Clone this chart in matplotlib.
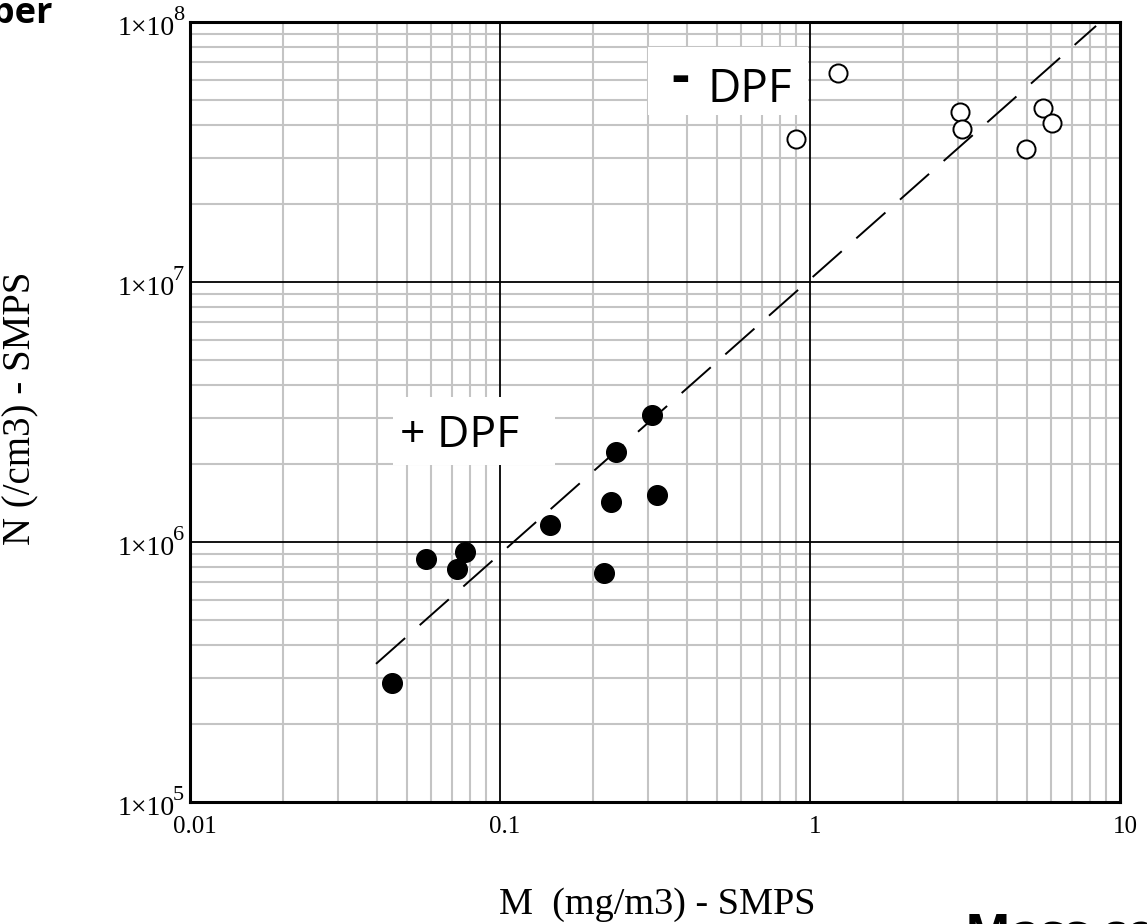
import matplotlib
matplotlib.use("Agg")
import matplotlib.pyplot as plt
from matplotlib.ticker import LogLocator, NullFormatter
from matplotlib.transforms import ScaledTranslation
from matplotlib.patches import Rectangle

plt.rcParams['font.family'] = ['Liberation Serif', 'DejaVu Serif']

# values (mass in mg/m3, number in /cm3)
plus_dpf_m = [0.0447, 0.0577, 0.0771, 0.0728, 0.145, 0.216, 0.228, 0.237, 0.310, 0.321]
plus_dpf_n = [2.86e5, 8.6e5, 9.18e5, 7.87e5, 1.16e6, 7.58e5, 1.42e6, 2.22e6, 3.08e6, 1.51e6]
minus_dpf_m = [0.902, 1.228, 3.05, 3.09, 4.96, 5.63, 6.05]
minus_dpf_n = [3.54e7, 6.35e7, 4.5e7, 3.87e7, 3.25e7, 4.68e7, 4.1e7]

# dashed trend line end points
fit_m = [0.0398, 8.37]
fit_n = [3.4e5, 9.66e7]

x_ticks = [0.01, 0.1, 1, 10]
x_labels = ["0.01", "0.1", "1", "10"]
y_ticks = [1e5, 1e6, 1e7, 1e8]
y_exps = [5, 6, 7, 8]

fig = plt.figure(figsize=(11.47, 9.24), dpi=100)
ax = fig.add_axes([0.1657, 0.1320, 0.8108, 0.8442])
ax.set_xscale('log')
ax.set_yscale('log')
ax.set_xlim(x_ticks[0], x_ticks[-1])
ax.set_ylim(y_ticks[0], y_ticks[-1])

# grid: grey minor lines, black decade lines
ax.xaxis.set_minor_locator(LogLocator(base=10, subs=range(2, 10), numticks=20))
ax.yaxis.set_minor_locator(LogLocator(base=10, subs=range(2, 10), numticks=20))
ax.xaxis.set_minor_formatter(NullFormatter())
ax.yaxis.set_minor_formatter(NullFormatter())
ax.set_axisbelow(True)
ax.grid(which='minor', color='#c4c4c4', lw=1.5)
for v in x_ticks[1:-1]:
    ax.axvline(v, color='black', lw=1.3, zorder=0.8)
for v in y_ticks[1:-1]:
    ax.axhline(v, color='black', lw=1.3, zorder=0.8)

for s in ax.spines.values():
    s.set_linewidth(2.2)

ax.plot(fit_m, fit_n, color='black', lw=1.4, ls=(0, (20, 10)), zorder=2)
ax.scatter(plus_dpf_m, plus_dpf_n, s=200, c='black', zorder=3)
ax.scatter(minus_dpf_m, minus_dpf_n, s=170, facecolors='white', edgecolors='black',
           linewidths=1.4, zorder=3)

ax.set_xticks(x_ticks, labels=x_labels)
ax.set_yticks(y_ticks)
ax.tick_params(which='both', length=0)
ax.tick_params(axis='x', labelsize=18, pad=10)
ax.tick_params(axis='y', labelleft=False)
for lab in ax.get_xticklabels():
    lab.set_transform(lab.get_transform() + ScaledTranslation(5 / 100, 0, fig.dpi_scale_trans))

# y tick labels written as 1x10 with a large exponent
for v, e in zip(y_ticks, y_exps):
    ax.annotate("1×10", xy=(0, v), xycoords=('axes fraction', 'data'),
                xytext=(-10.8, -9.4), textcoords='offset points',
                ha='right', va='baseline', fontsize=20, annotation_clip=False)
    ax.annotate(str(e), xy=(0, v), xycoords=('axes fraction', 'data'),
                xytext=(-12.4, 1.4), textcoords='offset points',
                ha='left', va='baseline', fontsize=16, annotation_clip=False)

ax.set_xlabel("M  (mg/m3) - SMPS", fontsize=27.5)
ax.xaxis.set_label_coords(0.502, -0.110)
ax.set_ylabel("N (/cm3) - SMPS", fontsize=28)
ax.yaxis.set_label_coords(-0.162, 0.505)

# white label boxes over the grid
ax.add_patch(Rectangle((0.4925, 0.8808), 0.172, 0.0871, transform=ax.transAxes,
                       facecolor='white', edgecolor='none', zorder=1))
ax.add_patch(Rectangle((0.2183, 0.4321), 0.1742, 0.0871, transform=ax.transAxes,
                       facecolor='white', edgecolor='none', zorder=1))
ax.text(0.5269, 0.9071, "-", transform=ax.transAxes, ha='center', va='baseline',
        fontsize=40, weight='bold', family='Open Sans', zorder=4)
ax.text(0.5559, 0.8974, "DPF", transform=ax.transAxes, ha='left', va='baseline',
        fontsize=33, family='Open Sans', zorder=4)
ax.text(0.2258, 0.4551, "+ DPF", transform=ax.transAxes, ha='left', va='baseline',
        fontsize=32, family='Open Sans', zorder=4)

# slide text cut off at the edges
fig.text(53 / 1147, 1 - 23 / 924, "Number", ha='right', va='baseline',
         fontsize=26, weight='bold', family='Open Sans')
fig.text(965 / 1147, 1 - 912 / 924, "Mass concentration", ha='left', va='top',
         fontsize=35, weight='bold', family='Open Sans')

fig.savefig("out.png", dpi=100)
